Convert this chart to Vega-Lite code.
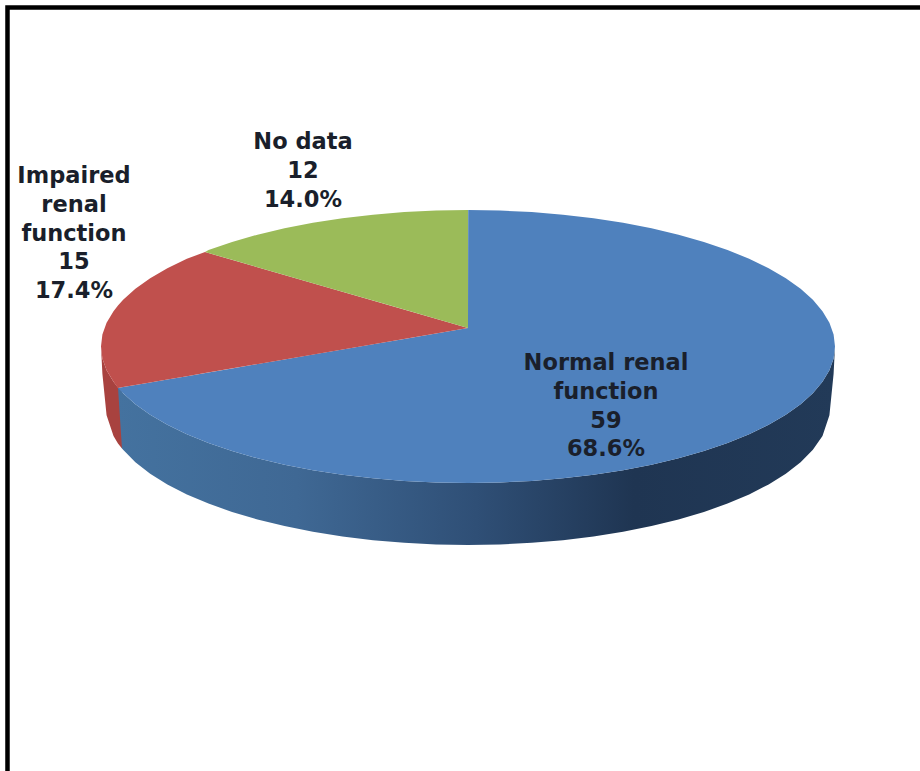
{
  "$schema": "https://vega.github.io/schema/vega-lite/v6.json",
  "width": 920,
  "height": 771,
  "autosize": {"type": "fit", "contains": "padding"},
  "padding": 0,
  "background": "white",
  "view": {"stroke": null},
  "datasets": {
    "frame": [
      {"n": 1, "u": -1.2548, "v": -3.1099},
      {"n": 2, "u": -1.2548, "v": 2.4835},
      {"n": 3, "u": 1.2316, "v": 2.4835}
    ],
    "sideBlue": [
      {"u": -0.9537, "top": -0.3008, "bottom": -0.3008},
      {"u": -0.9428, "top": -0.33, "bottom": -0.7467},
      {"u": -0.9397, "top": -0.342, "bottom": -0.7569},
      {"u": -0.9063, "top": -0.4226, "bottom": -0.8478},
      {"u": -0.866, "top": -0.5, "bottom": -0.9321},
      {"u": -0.8192, "top": -0.5736, "bottom": -1.0105},
      {"u": -0.766, "top": -0.6428, "bottom": -1.0836},
      {"u": -0.7071, "top": -0.7071, "bottom": -1.151},
      {"u": -0.6428, "top": -0.766, "bottom": -1.2123},
      {"u": -0.5736, "top": -0.8192, "bottom": -1.2674},
      {"u": -0.5, "top": -0.866, "bottom": -1.3159},
      {"u": -0.4226, "top": -0.9063, "bottom": -1.3575},
      {"u": -0.342, "top": -0.9397, "bottom": -1.3919},
      {"u": -0.2588, "top": -0.9659, "bottom": -1.4189},
      {"u": -0.1736, "top": -0.9848, "bottom": -1.4384},
      {"u": -0.0872, "top": -0.9962, "bottom": -1.4501},
      {"u": 0, "top": -1, "bottom": -1.454},
      {"u": 0.0872, "top": -0.9962, "bottom": -1.4501},
      {"u": 0.1736, "top": -0.9848, "bottom": -1.4384},
      {"u": 0.2588, "top": -0.9659, "bottom": -1.4189},
      {"u": 0.342, "top": -0.9397, "bottom": -1.3919},
      {"u": 0.4226, "top": -0.9063, "bottom": -1.3575},
      {"u": 0.5, "top": -0.866, "bottom": -1.3159},
      {"u": 0.5736, "top": -0.8192, "bottom": -1.2674},
      {"u": 0.6428, "top": -0.766, "bottom": -1.2123},
      {"u": 0.7071, "top": -0.7071, "bottom": -1.151},
      {"u": 0.766, "top": -0.6428, "bottom": -1.0836},
      {"u": 0.8192, "top": -0.5736, "bottom": -1.0105},
      {"u": 0.866, "top": -0.5, "bottom": -0.9321},
      {"u": 0.9063, "top": -0.4226, "bottom": -0.8478},
      {"u": 0.9397, "top": -0.342, "bottom": -0.7569},
      {"u": 0.9659, "top": -0.2588, "bottom": -0.6549},
      {"u": 0.9848, "top": -0.1736, "bottom": -0.503},
      {"u": 0.9962, "top": -0.0872, "bottom": -0.2},
      {"u": 1, "top": 0, "bottom": 0}
    ],
    "sideRed": [
      {"u": -1, "top": 0, "bottom": 0},
      {"u": -0.9962, "top": -0.0872, "bottom": -0.2},
      {"u": -0.9848, "top": -0.1736, "bottom": -0.503},
      {"u": -0.9659, "top": -0.2588, "bottom": -0.6549},
      {"u": -0.9537, "top": -0.3008, "bottom": -0.71},
      {"u": -0.9428, "top": -0.33, "bottom": -0.7467}
    ],
    "faces": [
      {"slice": "Normal renal function", "u": -0.9537, "top": -0.304, "bottom": -0.304},
      {"slice": "Normal renal function", "u": -0.9397, "top": -0.2975, "bottom": -0.342},
      {"slice": "Normal renal function", "u": -0.9063, "top": -0.2821, "bottom": -0.4226},
      {"slice": "Normal renal function", "u": -0.866, "top": -0.2636, "bottom": -0.5},
      {"slice": "Normal renal function", "u": -0.8192, "top": -0.242, "bottom": -0.5736},
      {"slice": "Normal renal function", "u": -0.766, "top": -0.2175, "bottom": -0.6428},
      {"slice": "Normal renal function", "u": -0.7071, "top": -0.1903, "bottom": -0.7071},
      {"slice": "Normal renal function", "u": -0.6428, "top": -0.1607, "bottom": -0.766},
      {"slice": "Normal renal function", "u": -0.5736, "top": -0.1288, "bottom": -0.8192},
      {"slice": "Normal renal function", "u": -0.5, "top": -0.0949, "bottom": -0.866},
      {"slice": "Normal renal function", "u": -0.4226, "top": -0.0592, "bottom": -0.9063},
      {"slice": "Normal renal function", "u": -0.342, "top": -0.0221, "bottom": -0.9397},
      {"slice": "Normal renal function", "u": -0.2588, "top": 0.0162, "bottom": -0.9659},
      {"slice": "Normal renal function", "u": -0.1736, "top": 0.0555, "bottom": -0.9848},
      {"slice": "Normal renal function", "u": -0.0872, "top": 0.0953, "bottom": -0.9962},
      {"slice": "Normal renal function", "u": 0, "top": 0.1355, "bottom": -1},
      {"slice": "Normal renal function", "u": 0.0005, "top": 1, "bottom": -1},
      {"slice": "Normal renal function", "u": 0.0872, "top": 0.9962, "bottom": -0.9962},
      {"slice": "Normal renal function", "u": 0.1736, "top": 0.9848, "bottom": -0.9848},
      {"slice": "Normal renal function", "u": 0.2588, "top": 0.9659, "bottom": -0.9659},
      {"slice": "Normal renal function", "u": 0.342, "top": 0.9397, "bottom": -0.9397},
      {"slice": "Normal renal function", "u": 0.4226, "top": 0.9063, "bottom": -0.9063},
      {"slice": "Normal renal function", "u": 0.5, "top": 0.866, "bottom": -0.866},
      {"slice": "Normal renal function", "u": 0.5736, "top": 0.8192, "bottom": -0.8192},
      {"slice": "Normal renal function", "u": 0.6428, "top": 0.766, "bottom": -0.766},
      {"slice": "Normal renal function", "u": 0.7071, "top": 0.7071, "bottom": -0.7071},
      {"slice": "Normal renal function", "u": 0.766, "top": 0.6428, "bottom": -0.6428},
      {"slice": "Normal renal function", "u": 0.8192, "top": 0.5736, "bottom": -0.5736},
      {"slice": "Normal renal function", "u": 0.866, "top": 0.5, "bottom": -0.5},
      {"slice": "Normal renal function", "u": 0.9063, "top": 0.4226, "bottom": -0.4226},
      {"slice": "Normal renal function", "u": 0.9397, "top": 0.342, "bottom": -0.342},
      {"slice": "Normal renal function", "u": 0.9659, "top": 0.2588, "bottom": -0.2588},
      {"slice": "Normal renal function", "u": 0.9848, "top": 0.1736, "bottom": -0.1736},
      {"slice": "Normal renal function", "u": 0.9962, "top": 0.0872, "bottom": -0.0872},
      {"slice": "Normal renal function", "u": 1, "top": 0, "bottom": 0},
      {"slice": "Impaired renal function", "u": -1, "top": 0, "bottom": 0},
      {"slice": "Impaired renal function", "u": -0.9962, "top": 0.0872, "bottom": -0.0872},
      {"slice": "Impaired renal function", "u": -0.9848, "top": 0.1736, "bottom": -0.1736},
      {"slice": "Impaired renal function", "u": -0.9659, "top": 0.2588, "bottom": -0.2588},
      {"slice": "Impaired renal function", "u": -0.9537, "top": 0.3008, "bottom": -0.304},
      {"slice": "Impaired renal function", "u": -0.9397, "top": 0.342, "bottom": -0.2975},
      {"slice": "Impaired renal function", "u": -0.9063, "top": 0.4226, "bottom": -0.2821},
      {"slice": "Impaired renal function", "u": -0.866, "top": 0.5, "bottom": -0.2636},
      {"slice": "Impaired renal function", "u": -0.8192, "top": 0.5736, "bottom": -0.242},
      {"slice": "Impaired renal function", "u": -0.766, "top": 0.6428, "bottom": -0.2175},
      {"slice": "Impaired renal function", "u": -0.7166, "top": 0.692, "bottom": -0.1947},
      {"slice": "Impaired renal function", "u": 0, "top": 0.1355, "bottom": 0.1355},
      {"slice": "No data", "u": -0.7166, "top": 0.692, "bottom": 0.692},
      {"slice": "No data", "u": -0.7071, "top": 0.7071, "bottom": 0.6846},
      {"slice": "No data", "u": -0.6428, "top": 0.766, "bottom": 0.6347},
      {"slice": "No data", "u": -0.5736, "top": 0.8192, "bottom": 0.581},
      {"slice": "No data", "u": -0.5, "top": 0.866, "bottom": 0.5238},
      {"slice": "No data", "u": -0.4226, "top": 0.9063, "bottom": 0.4637},
      {"slice": "No data", "u": -0.342, "top": 0.9397, "bottom": 0.4011},
      {"slice": "No data", "u": -0.2588, "top": 0.9659, "bottom": 0.3365},
      {"slice": "No data", "u": -0.1736, "top": 0.9848, "bottom": 0.2703},
      {"slice": "No data", "u": -0.0872, "top": 0.9962, "bottom": 0.2032},
      {"slice": "No data", "u": 0, "top": 1, "bottom": 0.1355}
    ],
    "labels": [
      {"slice": "Normal renal function", "count": 59, "share": "68.6%", "u": 0.376, "v": -0.1209, "lines": ["Normal renal", "function", "59", "68.6%"]},
      {"slice": "Impaired renal function", "count": 15, "share": "17.4%", "u": -1.0736, "v": 1.2491, "lines": ["Impaired", "renal", "function", "15", "17.4%"]},
      {"slice": "No data", "count": 12, "share": "14.0%", "u": -0.4496, "v": 1.4982, "lines": ["No data", "12", "14.0%"]}
    ]
  },
  "layer": [
    {
      "data": {"name": "frame"},
      "mark": {"type": "line", "color": "#000000", "strokeWidth": 4.5, "strokeJoin": "miter", "strokeCap": "butt", "clip": true},
      "encoding": {
        "x": {"field": "u", "type": "quantitative", "axis": null, "scale": {"domain": [-1.2752, 1.2316], "nice": false, "zero": false}},
        "y": {"field": "v", "type": "quantitative", "axis": null, "scale": {"domain": [-3.1099, 2.5385], "nice": false, "zero": false}},
        "order": {"field": "n", "type": "quantitative"}
      }
    },
    {
      "data": {"name": "sideRed"},
      "mark": {"type": "area", "color": "#a8423f"},
      "encoding": {
        "x": {"field": "u", "type": "quantitative", "axis": null},
        "y": {"field": "top", "type": "quantitative", "axis": null},
        "y2": {"field": "bottom"}
      }
    },
    {
      "data": {"name": "sideBlue"},
      "mark": {
        "type": "area",
        "color": {
          "gradient": "linear",
          "x1": 0, "y1": 0, "x2": 1, "y2": 0,
          "stops": [
            {"offset": 0, "color": "#44729f"},
            {"offset": 0.25, "color": "#3f6894"},
            {"offset": 0.5, "color": "#2f4f76"},
            {"offset": 0.72, "color": "#1f3552"},
            {"offset": 1, "color": "#223a58"}
          ]
        }
      },
      "encoding": {
        "x": {"field": "u", "type": "quantitative", "axis": null},
        "y": {"field": "top", "type": "quantitative", "axis": null},
        "y2": {"field": "bottom"}
      }
    },
    {
      "data": {"name": "faces"},
      "mark": {"type": "area"},
      "encoding": {
        "x": {"field": "u", "type": "quantitative", "axis": null},
        "y": {"field": "top", "type": "quantitative", "axis": null},
        "y2": {"field": "bottom"},
        "color": {
          "field": "slice",
          "type": "nominal",
          "legend": null,
          "scale": {
            "domain": ["Normal renal function", "Impaired renal function", "No data"],
            "range": ["#4f81bd", "#c0504d", "#9bbb59"]
          }
        }
      }
    },
    {
      "data": {"name": "labels"},
      "mark": {"type": "text", "font": "DejaVu Sans", "fontSize": 22.5, "fontWeight": "bold", "align": "center", "baseline": "middle", "lineHeight": 28.8, "color": "#1a1f2b"},
      "encoding": {
        "x": {"field": "u", "type": "quantitative", "axis": null},
        "y": {"field": "v", "type": "quantitative", "axis": null},
        "text": {"field": "lines"}
      }
    }
  ]
}
